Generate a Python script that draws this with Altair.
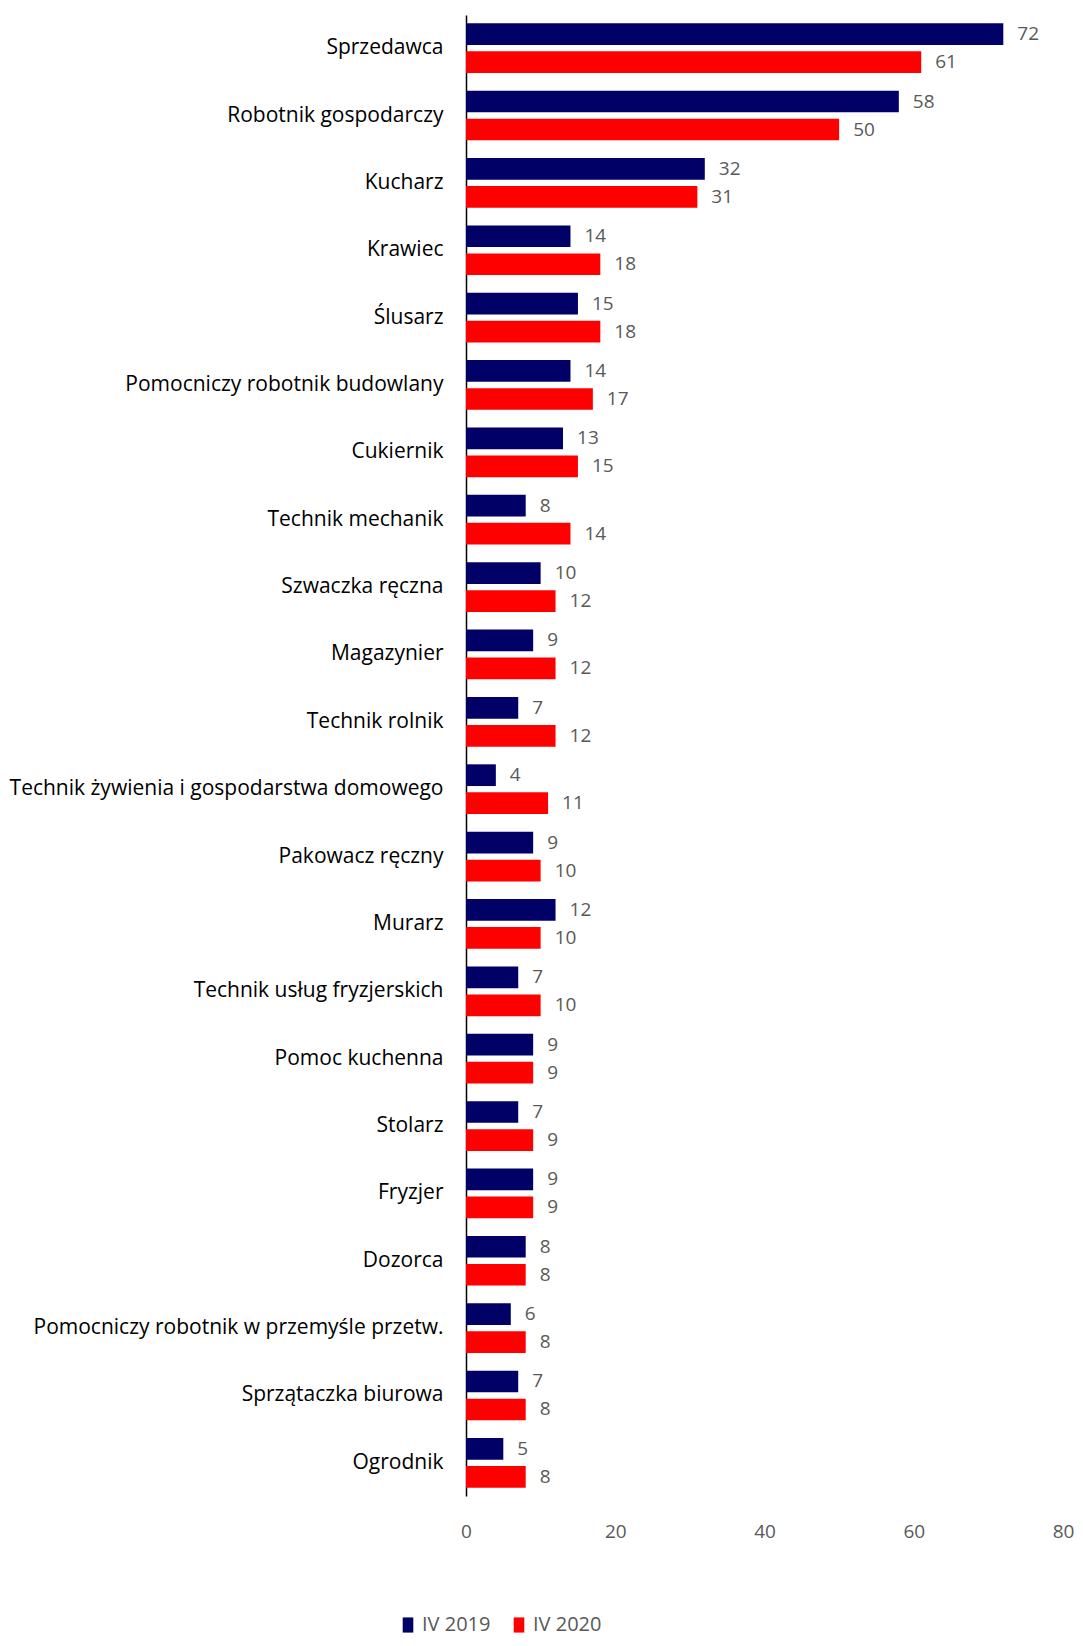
import altair as alt
import pandas as pd

categories = [
    "Sprzedawca", "Robotnik gospodarczy", "Kucharz", "Krawiec", "Ślusarz",
    "Pomocniczy robotnik budowlany", "Cukiernik", "Technik mechanik",
    "Szwaczka ręczna", "Magazynier", "Technik rolnik",
    "Technik żywienia i gospodarstwa domowego", "Pakowacz ręczny", "Murarz",
    "Technik usług fryzjerskich", "Pomoc kuchenna", "Stolarz", "Fryzjer",
    "Dozorca", "Pomocniczy robotnik w przemyśle przetw.",
    "Sprzątaczka biurowa", "Ogrodnik",
]
values_2019 = [72, 58, 32, 14, 15, 14, 13, 8, 10, 9, 7, 4, 9, 12, 7, 9, 7, 9, 8, 6, 7, 5]
values_2020 = [61, 50, 31, 18, 18, 17, 15, 14, 12, 12, 12, 11, 10, 10, 10, 9, 9, 9, 8, 8, 8, 8]
series = ["IV 2019", "IV 2020"]
colors = ["#000066", "#FF0000"]
x_ticks = [0, 20, 40, 60, 80]

rows = []
for c, a, b in zip(categories, values_2019, values_2020):
    rows.append({"cat": c, "series": series[0], "value": a})
    rows.append({"cat": c, "series": series[1], "value": b})
df = pd.DataFrame(rows)

FONT = "Open Sans"

y_enc = alt.Y("cat:N", sort=categories, title=None,
              scale=alt.Scale(paddingInner=0.262, paddingOuter=0.123),
              axis=alt.Axis(domainColor="#000000", domainWidth=1.5, ticks=False,
                            labelFontSize=21, labelColor="#000000", labelFont=FONT,
                            labelPadding=23, labelLimit=700))
yoff = alt.YOffset("series:N", sort=series, scale=alt.Scale(paddingInner=0.225))
x_enc = alt.X("value:Q", title=None,
              scale=alt.Scale(domain=[0, 80], nice=False),
              axis=alt.Axis(values=x_ticks, grid=False, domain=False, ticks=False,
                            labelFlush=False,
                            labelFontSize=19, labelColor="#595959", labelFont=FONT,
                            labelPadding=26))

base = alt.Chart(df).encode(y=y_enc, yOffset=yoff)

bars = base.mark_bar().encode(
    x=x_enc,
    color=alt.Color("series:N", sort=series,
                    scale=alt.Scale(domain=series, range=colors),
                    legend=alt.Legend(title=None, orient="none", legendX=-68, legendY=1600,
                                      direction="horizontal",
                                      symbolType="M-0.7,-1H0.7V1H-0.7Z",
                                      symbolSize=230, labelFontSize=20, labelFont=FONT,
                                      labelColor="#595959", columnPadding=18,
                                      symbolStrokeWidth=0)),
)
labels = base.mark_text(align="left", baseline="middle", dx=14, fontSize=19,
                        font=FONT, color="#595959").encode(
    x=alt.X("value:Q"),
    text=alt.Text("value:Q"),
)

chart = (bars + labels).properties(
    width=597, height=1481,
    padding={"top": 7, "bottom": 3, "left": 1, "right": 0},
).configure_view(stroke=None)
chart.save("out.html", embed_options={"renderer": "svg", "actions": False})
